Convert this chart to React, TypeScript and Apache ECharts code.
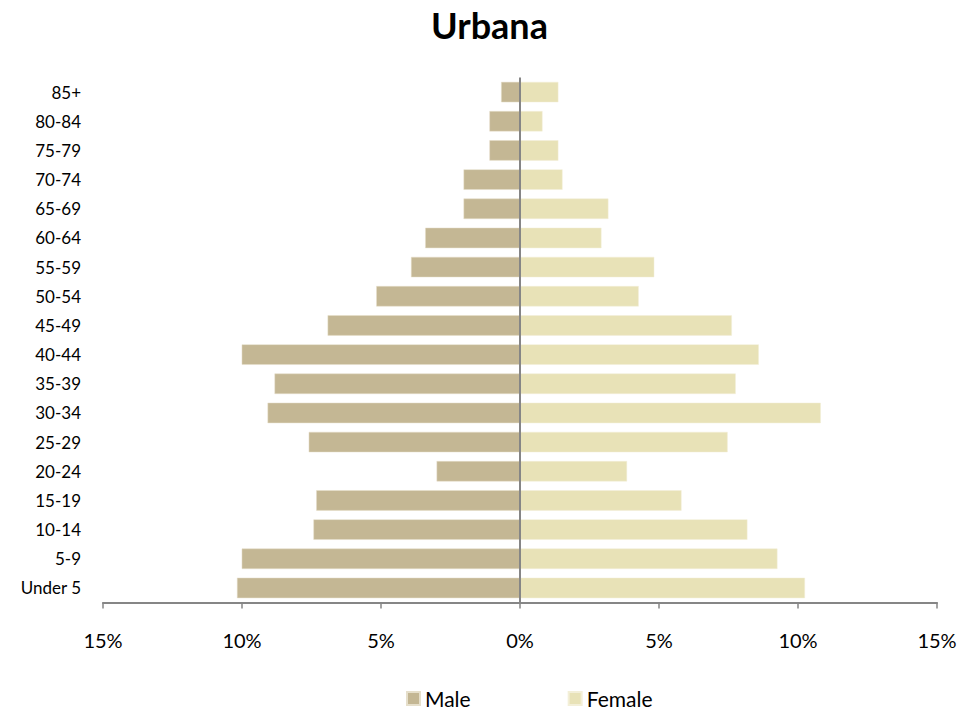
import React, { useEffect, useRef } from "react";
import * as echarts from "echarts";

const categories = [
  "Under 5", "5-9", "10-14", "15-19", "20-24", "25-29", "30-34", "35-39", "40-44",
  "45-49", "50-54", "55-59", "60-64", "65-69", "70-74", "75-79", "80-84", "85+",
];
const maleValues = [
  10.18, 10.01, 7.43, 7.33, 3.0, 7.6, 9.08, 8.83, 10.01,
  6.92, 5.17, 3.92, 3.41, 2.03, 2.03, 1.1, 1.1, 0.68,
];
const femaleValues = [
  10.25, 9.26, 8.18, 5.81, 3.85, 7.47, 10.82, 7.76, 8.59,
  7.62, 4.27, 4.83, 2.93, 3.18, 1.53, 1.38, 0.81, 1.38,
];
const xTicks = [-15, -10, -5, 0, 5, 10, 15];

const FONT = "Lato, 'Open Sans', sans-serif";

export default function App() {
  const ref = useRef<HTMLDivElement>(null);
  useEffect(() => {
    if (!ref.current) return;
    const chart = echarts.init(ref.current, null, { renderer: "svg" });
    chart.setOption({
      animation: false,
      textStyle: { fontFamily: FONT, color: "#000" },
      title: {
        text: "Urbana",
        left: "center",
        top: 2,
        textStyle: { fontFamily: FONT, fontSize: 36, fontWeight: "bold", color: "#000" },
      },
      legend: {
        top: 688,
        left: 401,
        padding: [0, 5],
        itemWidth: 13,
        itemHeight: 13,
        itemGap: 97,
        icon: "rect",
        textStyle: { fontFamily: FONT, fontSize: 21, color: "#000" },
        data: ["Male", "Female"],
      },
      grid: { left: 103, right: 42, top: 77.5, bottom: 110.5, containLabel: false },
      xAxis: {
        type: "value",
        min: xTicks[0],
        max: xTicks[xTicks.length - 1],
        interval: 5,
        splitLine: { show: false },
        axisLine: { show: true, lineStyle: { color: "#868686", width: 2 } },
        axisTick: { show: true, length: 6, lineStyle: { color: "#868686", width: 1.5 } },
        axisLabel: {
          fontFamily: FONT,
          fontSize: 20,
          color: "#000",
          margin: 27,
          formatter: (v: number) => Math.abs(v) + "%",
        },
      },
      yAxis: {
        type: "category",
        data: categories,
        axisLine: { show: false },
        axisTick: { show: false },
        axisLabel: { fontFamily: FONT, fontSize: 17, color: "#000", margin: 22 },
      },
      series: [
        {
          name: "Male",
          type: "bar",
          stack: "pop",
          barCategoryGap: "30%",
          data: maleValues.map((v) => -v),
          itemStyle: { color: "#C4B794", borderColor: "#E6DFCB", borderWidth: 0.5 },
          markLine: {
            silent: true,
            symbol: "none",
            label: { show: false },
            lineStyle: { color: "#868686", width: 2, type: "solid" },
            data: [{ xAxis: 0 }],
          },
        },
        {
          name: "Female",
          type: "bar",
          stack: "pop",
          barCategoryGap: "30%",
          data: femaleValues,
          itemStyle: { color: "#E8E2B7", borderColor: "#F3EFD8", borderWidth: 0.5 },
        },
      ],
    });
    return () => chart.dispose();
  }, []);
  return (
    <div
      ref={ref}
      style={{ position: "absolute", left: 0, top: 0, width: 979, height: 713 }}
    />
  );
}
